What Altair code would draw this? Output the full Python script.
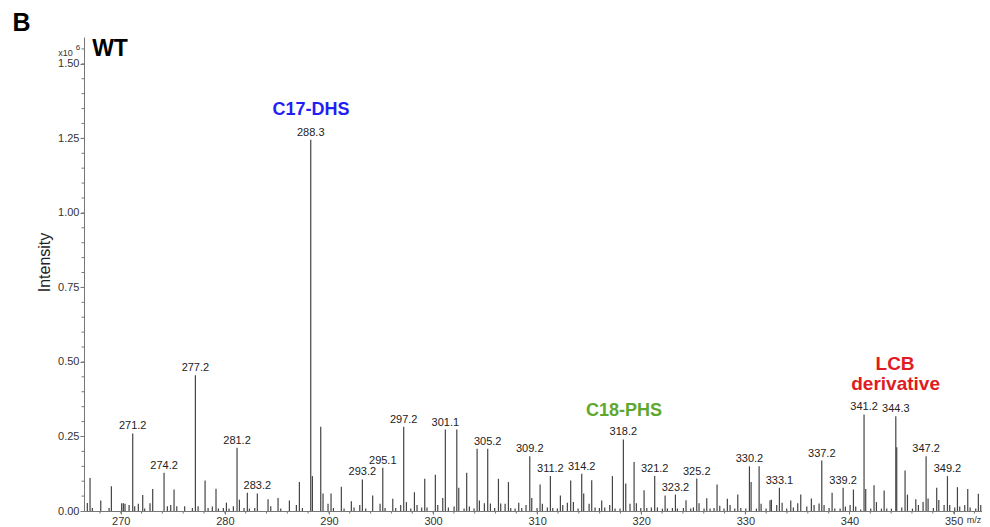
import altair as alt
import pandas as pd

# ---- stick spectrum (m/z, intensity x10^6) ----
mz = [
    266.79, 267.05, 267.27, 268.08, 268.88, 269.10, 270.09, 270.25, 270.41, 270.80,
    271.15, 271.34, 271.69, 272.11, 272.30, 272.81, 273.07, 274.16, 274.48, 274.80,
    275.12, 275.38, 276.14, 276.88, 277.17, 277.43, 278.10, 278.39, 278.80, 279.15,
    279.38, 279.86, 280.15, 280.40, 280.82, 281.17, 281.40, 281.84, 282.16, 282.36,
    282.87, 283.12, 284.15, 284.41, 285.11, 285.37, 286.20, 286.87, 287.16, 287.45,
    288.25, 288.41, 289.21, 289.43, 289.91, 290.20, 290.43, 291.19, 291.45, 292.15,
    292.41, 292.96, 293.21, 293.53, 294.20, 294.91, 295.17, 295.39, 296.13, 296.41,
    296.89, 297.18, 297.44, 297.86, 298.21, 298.46, 298.91, 299.20, 299.42, 300.22,
    300.45, 300.93, 301.18, 301.47, 302.02, 302.28, 302.47, 302.98, 303.23, 303.49,
    303.94, 304.23, 304.45, 304.93, 305.25, 305.51, 305.92, 306.28, 306.50, 306.92,
    307.24, 307.46, 307.88, 308.23, 308.52, 308.93, 309.29, 309.48, 309.99, 310.28,
    310.50, 310.98, 311.27, 311.50, 311.94, 312.23, 312.46, 312.90, 313.22, 313.48,
    313.93, 314.28, 314.47, 314.99, 315.24, 315.56, 315.98, 316.20, 316.49, 316.97,
    317.23, 317.48, 317.96, 318.28, 318.51, 318.92, 319.31, 319.53, 319.95, 320.27,
    320.53, 320.97, 321.29, 321.55, 322.03, 322.29, 322.51, 322.99, 323.28, 323.47,
    324.05, 324.30, 324.75, 325.01, 325.33, 325.55, 326.03, 326.29, 326.61, 326.99,
    327.28, 327.54, 327.95, 328.27, 328.53, 328.98, 329.27, 329.56, 330.04, 330.39,
    330.55, 331.06, 331.32, 331.51, 331.99, 332.37, 332.50, 333.01, 333.27, 333.53,
    333.97, 334.36, 334.61, 335.03, 335.32, 335.90, 336.34, 336.60, 337.08, 337.34,
    337.56, 338.04, 338.33, 338.59, 339.10, 339.39, 339.61, 340.06, 340.38, 340.60,
    341.08, 341.40, 341.56, 342.04, 342.36, 342.59, 343.07, 343.33, 343.58, 344.03,
    344.45, 344.54, 345.02, 345.34, 345.57, 346.05, 346.37, 346.62, 347.07, 347.36,
    347.55, 348.06, 348.38, 348.58, 349.09, 349.41, 349.63, 350.11, 350.37, 350.59,
    351.07, 351.36, 351.59, 352.13, 352.38, 352.61,
]
intensity = [
    0.027, 0.111, 0.010, 0.035, 0.010, 0.083, 0.026, 0.026, 0.024, 0.020,
    0.260, 0.016, 0.024, 0.054, 0.008, 0.026, 0.074, 0.128, 0.016, 0.020,
    0.072, 0.016, 0.016, 0.010, 0.455, 0.016, 0.102, 0.010, 0.015, 0.075,
    0.008, 0.010, 0.028, 0.008, 0.016, 0.212, 0.038, 0.010, 0.061, 0.008,
    0.010, 0.059, 0.039, 0.016, 0.044, 0.008, 0.035, 0.020, 0.097, 0.010,
    1.245, 0.117, 0.283, 0.059, 0.024, 0.059, 0.010, 0.081, 0.008, 0.033,
    0.012, 0.020, 0.106, 0.008, 0.052, 0.024, 0.145, 0.010, 0.041, 0.010,
    0.020, 0.283, 0.030, 0.008, 0.063, 0.020, 0.012, 0.108, 0.012, 0.122,
    0.020, 0.044, 0.273, 0.012, 0.015, 0.273, 0.078, 0.008, 0.128, 0.015,
    0.008, 0.209, 0.035, 0.026, 0.209, 0.025, 0.010, 0.108, 0.025, 0.024,
    0.097, 0.010, 0.008, 0.028, 0.010, 0.020, 0.184, 0.044, 0.010, 0.089,
    0.024, 0.012, 0.117, 0.010, 0.008, 0.052, 0.020, 0.028, 0.102, 0.030,
    0.008, 0.125, 0.059, 0.024, 0.103, 0.012, 0.010, 0.035, 0.012, 0.020,
    0.117, 0.008, 0.008, 0.240, 0.092, 0.024, 0.164, 0.026, 0.010, 0.070,
    0.010, 0.012, 0.117, 0.012, 0.008, 0.052, 0.008, 0.010, 0.055, 0.008,
    0.010, 0.036, 0.008, 0.012, 0.109, 0.026, 0.008, 0.043, 0.008, 0.010,
    0.089, 0.018, 0.008, 0.041, 0.020, 0.008, 0.055, 0.010, 0.008, 0.150,
    0.097, 0.008, 0.150, 0.024, 0.008, 0.036, 0.038, 0.020, 0.078, 0.028,
    0.008, 0.035, 0.012, 0.026, 0.055, 0.015, 0.042, 0.020, 0.025, 0.169,
    0.020, 0.010, 0.061, 0.008, 0.008, 0.078, 0.015, 0.020, 0.072, 0.015,
    0.005, 0.324, 0.074, 0.008, 0.086, 0.030, 0.008, 0.069, 0.008, 0.008,
    0.318, 0.214, 0.012, 0.136, 0.055, 0.008, 0.039, 0.020, 0.030, 0.184,
    0.042, 0.010, 0.078, 0.037, 0.020, 0.117, 0.020, 0.012, 0.080, 0.015,
    0.020, 0.074, 0.012, 0.008, 0.058, 0.020,
]

# ---- peak labels ----
label_text = ["271.2", "274.2", "277.2", "281.2", "283.2", "288.3", "293.2", "295.1",
              "297.2", "301.1", "305.2", "309.2", "311.2", "314.2", "318.2", "321.2",
              "323.2", "325.2", "330.2", "333.1", "337.2", "339.2", "341.2", "344.3",
              "347.2", "349.2"]
label_at = [271.15, 274.16, 277.17, 281.17, 283.12, 288.25, 293.21, 295.17,
            297.18, 301.18, 305.25, 309.29, 311.27, 314.28, 318.28, 321.29,
            323.28, 325.33, 330.39, 333.27, 337.34, 339.39, 341.40, 344.45,
            347.36, 349.41]

# ---- axis ticks ----
x_major = [270, 280, 290, 300, 310, 320, 330, 340, 350]
x_minor = list(range(268, 353, 2))
y_major = [0.0, 0.25, 0.5, 0.75, 1.0, 1.25, 1.5]
y_minor = [round(0.05 * i, 2) for i in range(1, 32)]

# ---- annotations ----
ann_text = ["C17-DHS", "C18-PHS", "LCB", "derivative", "WT", "B"]
ann_x = [288.27, 318.34, 344.38, 344.43, 268.97, 260.47]
ann_y = [1.346, 0.335, 0.492, 0.425, 1.550, 1.636]
ann_color = ["#1f1ff5", "#5fa82e", "#e01b22", "#e01b22", "#000000", "#000000"]
ann_size = [18, 18, 19, 19, 23, 25]

small_text = ["x10", "6", "m/z"]
small_x = [264.69, 265.89, 351.96]
small_y = [1.537, 1.553, -0.030]
small_size = [9, 8, 9]

X_DOMAIN = [266.47, 352.73]
Y_DOMAIN = [0, 1.59]
PLOT_W, PLOT_H = 898, 474
FONT = "Liberation Sans, Arial, sans-serif"
AXIS_COLOR = "#777777"

df = pd.DataFrame({"mz": mz, "intensity": intensity})
lookup = dict(zip(mz, intensity))
lab_df = pd.DataFrame({"mz": label_at, "intensity": [lookup[m] for m in label_at],
                       "label": label_text})
ann_df = pd.DataFrame({"x": ann_x, "y": ann_y, "t": ann_text, "c": ann_color, "s": ann_size})
small_df = pd.DataFrame({"x": small_x, "y": small_y, "t": small_text, "s": small_size})

x_axis = alt.Axis(values=x_major, format="d", tickSize=3, labelPadding=1,
                  labelFontSize=11, labelFont=FONT, labelColor="#333333",
                  domainColor=AXIS_COLOR, tickColor=AXIS_COLOR, grid=False,
                  title=None)
y_axis = alt.Axis(values=y_major, format=".2f", tickSize=4, labelPadding=1,
                  labelFontSize=11, labelFont=FONT, labelColor="#333333",
                  domainColor=AXIS_COLOR, tickColor=AXIS_COLOR, grid=False,
                  title="Intensity", titleFontSize=16, titleFont=FONT,
                  titleFontWeight="normal", titleColor="#222222", titlePadding=5,
                  titleY=225)


def xs(field):
    return alt.X(field, type="quantitative",
                 scale=alt.Scale(domain=X_DOMAIN, nice=False, zero=False),
                 axis=x_axis)


def ys(field):
    return alt.Y(field, type="quantitative",
                 scale=alt.Scale(domain=Y_DOMAIN, nice=False),
                 axis=y_axis)


sticks = alt.Chart(df).mark_rule(color="#444444", strokeWidth=1.2, clip=True).encode(
    x=xs("mz"),
    y=ys("intensity"),
    y2=alt.datum(0),
)

labels = alt.Chart(lab_df).mark_text(
    baseline="bottom", align="center", dy=-2, fontSize=11, font=FONT, color="#222222"
).encode(x=xs("mz"), y=ys("intensity"), text="label:N")

ymin_df = pd.DataFrame({"v": y_minor})
y_minor_ticks = alt.Chart(ymin_df).mark_rule(color=AXIS_COLOR, strokeWidth=1).encode(
    y=ys("v"), x=alt.value(-2.5), x2=alt.value(0)
)
xmin_df = pd.DataFrame({"m": x_minor})
x_minor_ticks = alt.Chart(xmin_df).mark_rule(color=AXIS_COLOR, strokeWidth=1).encode(
    x=xs("m"), y=alt.value(PLOT_H), y2=alt.value(PLOT_H + 2.5)
)

annotations = alt.Chart(ann_df).mark_text(
    fontWeight="bold", font=FONT, align="center", baseline="middle"
).encode(
    x=xs("x"), y=ys("y"), text="t:N",
    color=alt.Color("c:N", scale=None),
    size=alt.Size("s:Q", scale=None),
)

small = alt.Chart(small_df).mark_text(
    font=FONT, align="center", baseline="middle", color="#333333"
).encode(
    x=xs("x"), y=ys("y"), text="t:N",
    size=alt.Size("s:Q", scale=None),
)

chart = alt.layer(
    sticks, x_minor_ticks, y_minor_ticks, labels, annotations, small
).properties(
    width=PLOT_W, height=PLOT_H,
    padding={"left": 76, "top": 29, "right": 0, "bottom": 16},
    autosize=alt.AutoSizeParams(type="none"),
    background="white",
).configure_view(strokeWidth=0)

chart.save("out.html", embed_options={"renderer": "svg", "actions": False})
